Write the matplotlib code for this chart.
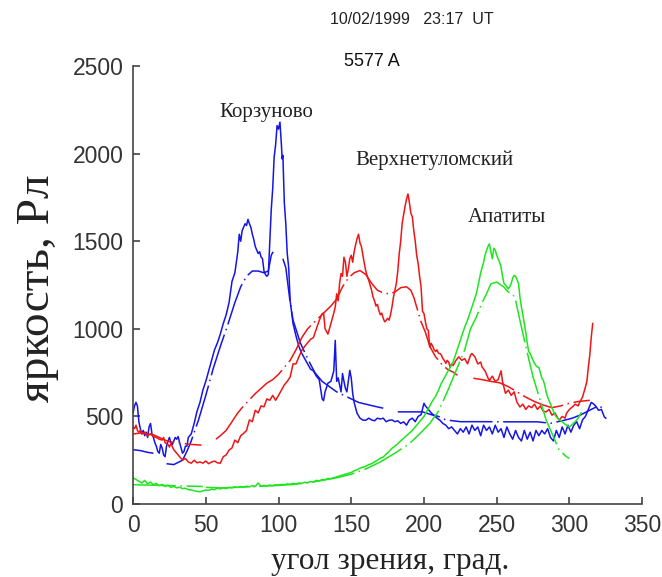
import numpy as np
import matplotlib
matplotlib.use("Agg")
import matplotlib.pyplot as plt

# --- data (angle, deg ; brightness, R) ---
korz_raw = [(0,520),(1,560),(2,580),(3,560),(4,470),(5,430),(6,400),(7,420),(8,390),(9,410),
    (10,380),(11,440),(12,460),(13,400),(14,380),(15,350),(16,330),(17,300),(18,290),(19,340),
    (20,320),(21,280),(22,270),(23,330),(24,360),(25,380),(26,350),(27,340),(28,360),(29,380),
    (30,370),(31,385),(32,350),(33,320),(34,290),(35,300),(36,330),(37,330),(38,380),(39,390),
    (40,400),(42,460),(44,530),(46,580),(48,650),(50,700),(52,760),(54,820),(56,880),(58,920),
    (60,970),(62,1030),(64,1080),(66,1150),(68,1270),(70,1320),(72,1440),(73,1540),(74,1500),
    (75,1560),(76,1580),(77,1600),(78,1590),(79,1625),(80,1600),(81,1580),(82,1540),(83,1510),
    (84,1470),(85,1450),(86,1430),(87,1440),(88,1410),(89,1400),(90,1330),(91,1310),(92,1300),
    (93,1310),(94,1500),(95,1680),(96,1800),(97,1980),(98,2050),(99,2160),(100,2140),(101,2180),
    (102,2050),(102.5,1970),(103,1990),(104,1720),(105,1600),(106,1430),(107,1350),(108,1160),
    (110,1030),(112,960),(114,900),(116,860),(118,830),(120,800),(122,770),(124,760),(126,730),
    (128,710),(130,600),(131,590),(132,640),(134,690),(136,700),(138,760),(139,934),(140,700),
    (141,720),(142,680),(143,640),(144,745),(145,700),(146,660),(147,640),(148,700),(149,763),
    (150,720),(151,632),(152,580),(154,518),(156,490),(158,479),(160,478),(162,490),(164,480),
    (166,475),(168,490),(170,485),(172,490),(174,470),(176,478),(178,480),(180,470),(182,475),
    (184,460),(186,469),(188,450),(190,480),(192,490),(194,470),(196,500),(198,510),(200,575),
    (201,560),(203,540),(205,520),(207,505),(209,490),(211,478),(213,460),(215,450),(217,430),
    (219,440),(221,420),(223,400),(225,430),(227,410),(229,440),(231,400),(233,450),(235,420),
    (237,440),(239,390),(241,450),(243,420),(245,440),(247,400),(249,450),(251,410),(253,430),
    (255,380),(257,440),(259,400),(261,370),(263,420),(265,380),(267,360),(269,420),(271,370),
    (273,410),(275,360),(277,420),(279,390),(281,420),(283,400),(285,430),(287,380),(289,360),
    (291,420),(293,380),(295,440),(297,400),(299,450),(301,410),(303,450),(305,470),(307,430),
    (309,480),(311,500),(313,540),(315,580),(316,575),(318,560),(320,535),(322,540),(324,497),
    (325,490)]
korz_fit = [(0,310),(5,305),(10,295),(14,290),(None,None),(23,230),(28,225),(34,250),(37,300),
    (40,360),(45,480),(50,620),(55,770),(60,900),(65,1020),(70,1150),(74,1240),(78,1300),
    (82,1330),(86,1330),(90,1320),(93,1330),(95,1420),(97,1450),(None,None),(103,1400),
    (105,1350),(108,1150),(110,1050),(115,920),(120,830),(125,750),(130,700),(135,670),
    (140,640),(145,620),(150,600),(155,580),(160,570),(165,560),(172,547),(None,None),
    (182,526),(190,526),(199,526),(205,510),(210,500),(215,480),(225,470),(240,470),(260,469),
    (278,469),(287,461),(295,475),(302,490),(308,510),(315,540),(320,560),(325,540)]

verh_raw = [(0,440),(1,430),(2,450),(3,420),(4,410),(5,420),(6,400),(8,410),(10,390),(12,400),
    (14,385),(16,380),(18,370),(20,365),(21,380),(22,350),(24,340),(25,325),(26,345),(28,310),
    (30,290),(32,270),(34,250),(36,260),(38,240),(40,233),(42,250),(44,235),(46,240),(48,233),
    (50,245),(52,230),(54,240),(56,245),(58,235),(60,233),(62,270),(64,280),(66,308),(68,320),
    (70,365),(72,350),(74,390),(76,403),(78,420),(80,480),(82,470),(84,535),(86,520),(88,560),
    (90,555),(92,600),(94,592),(96,620),(98,592),(100,620),(102,650),(104,680),(106,700),
    (108,725),(110,800),(112,800),(114,840),(116,877),(118,900),(120,920),(122,940),(124,950),
    (126,1000),(128,1048),(130,1086),(131,1090),(132,1000),(134,970),(136,1030),(138,1090),
    (139,1124),(140,1200),(141,1160),(142,1260),(143,1316),(144,1300),(145,1409),(146,1380),
    (147,1300),(148,1340),(149,1400),(150,1420),(151,1380),(152,1440),(153,1480),(154,1514),
    (155,1540),(156,1490),(157,1470),(158,1420),(159,1373),(160,1330),(161,1300),(162,1278),
    (163,1250),(164,1220),(165,1181),(166,1160),(167,1130),(168,1140),(169,1105),(170,1080),
    (171,1090),(172,1060),(173,1040),(174,1048),(175,1060),(176,1050),(177,1080),(178,1124),
    (179,1180),(180,1220),(181,1259),(182,1330),(183,1430),(184,1500),(185,1601),(186,1650),
    (187,1700),(188,1740),(189,1770),(190,1720),(191,1660),(192,1640),(193,1560),(194,1500),
    (195,1420),(196,1373),(197,1300),(198,1240),(199,1100),(200,1088),(201,1040),(202,1000),
    (203,991),(204,896),(205,917),(206,900),(207,880),(208,870),(209,880),(210,860),(211,859),
    (212,850),(213,830),(214,820),(215,803),(216,820),(217,810),(218,782),(219,800),(220,790),
    (222,820),(224,840),(226,820),(228,830),(230,800),(232,850),(233,859),(235,840),(237,800),
    (239,810),(240,782),(242,760),(244,720),(245,706),(247,730),(249,700),(251,710),(253,760),
    (254,700),(256,632),(258,650),(260,620),(262,640),(264,580),(266,554),(268,570),(270,540),
    (272,560),(274,550),(276,570),(278,540),(280,560),(282,530),(284,526),(286,540),(288,507),
    (290,520),(292,490),(293,479),(295,500),(297,490),(298,518),(300,540),(302,554),(304,570),
    (306,560),(307,580),(309,610),(311,668),(312,700),(313,780),(314,850),(315,950),(316,1030)]
verh_fit = [(0,400),(5,405),(10,400),(14,395),(18,380),(22,365),(25,355),(30,350),(35,345),
    (40,340),(44,338),(47,336),(None,None),(57,370),(60,390),(64,420),(68,470),(72,520),
    (76,560),(80,595),(84,630),(88,660),(92,690),(96,710),(100,740),(104,780),(108,820),
    (112,880),(116,950),(120,1000),(126,1050),(131,1090),(136,1130),(140,1170),(144,1240),
    (148,1290),(152,1320),(156,1333),(160,1310),(164,1260),(168,1220),(172,1205),(176,1200),
    (180,1210),(184,1235),(188,1240),(191,1220),(193,1180),(195,1124),(198,1040),(201,980),
    (204,900),(208,840),(212,800),(216,770),(220,753),(223,735),(None,None),(234,718),
    (240,710),(246,700),(252,692),(258,670),(264,640),(270,610),(276,585),(282,565),(288,550),
    (294,560),(300,575),(306,585),(314,592)]

apat_raw = [(0,150),(2,140),(4,130),(6,120),(8,135),(10,115),(12,125),(14,110),(16,118),(18,105),
    (20,112),(22,100),(24,108),(26,95),(28,100),(30,92),(32,96),(34,88),(36,90),(38,82),(40,80),
    (42,76),(44,72),(46,70),(48,75),(50,80),(52,78),(54,85),(56,82),(58,90),(60,86),(62,92),
    (64,88),(66,95),(68,92),(70,98),(72,95),(74,100),(76,96),(78,102),(80,98),(82,105),(84,100),
    (86,120),(88,102),(90,106),(92,104),(94,108),(96,105),(98,110),(100,108),(102,112),(104,110),
    (106,115),(108,112),(110,118),(112,114),(114,120),(116,118),(118,124),(120,122),(122,128),
    (124,126),(126,135),(128,132),(130,140),(132,138),(134,146),(136,144),(138,150),(140,155),
    (142,160),(144,165),(146,170),(148,175),(150,180),(152,190),(154,195),(156,205),(158,210),
    (160,215),(162,225),(164,230),(166,240),(168,250),(170,262),(172,268),(174,285),(176,300),
    (178,318),(180,330),(182,345),(184,360),(186,375),(188,390),(190,405),(192,420),(194,440),
    (196,460),(198,480),(200,500),(202,530),(204,560),(206,590),(208,615),(210,650),(212,690),
    (214,720),(216,750),(218,780),(220,810),(222,860),(224,910),(226,960),(228,1010),(230,1050),
    (232,1100),(234,1150),(236,1200),(237,1240),(238,1280),(239,1320),(240,1350),(241,1380),
    (242,1420),(243,1447),(244,1470),(245,1485),(246,1440),(247,1400),(248,1460),(249,1450),
    (250,1420),(251,1400),(252,1380),(253,1352),(254,1300),(255,1260),(256,1250),(257,1240),
    (258,1229),(259,1240),(260,1260),(261,1290),(262,1305),(263,1300),(264,1280),(265,1260),
    (266,1180),(267,1124),(268,1080),(269,1030),(270,980),(271,920),(272,870),(273,860),
    (274,840),(275,820),(276,803),(277,790),(278,782),(279,780),(280,750),(281,720),(282,706),
    (283,680),(284,640),(285,611),(286,590),(287,570),(288,550),(289,530),(290,510),(291,497),
    (293,480),(295,470),(297,455),(299,445),(300,440),(302,455),(304,470),(306,490),(308,520)]
apat_fit = [(0,110),(10,108),(20,106),(30,104),(40,102),(48,100),(None,None),(50,95),(60,92),
    (70,95),(80,98),(90,102),(100,106),(110,112),(120,120),(130,135),(140,150),(150,170),
    (160,200),(170,240),(180,290),(190,345),(197,400),(204,460),(210,530),(216,640),(222,760),
    (228,880),(232,1000),(236,1067),(240,1150),(243,1200),(246,1257),(250,1267),(255,1238),
    (258,1210),(261,1200),(263,1162),(266,1048),(270,900),(275,725),(280,590),(284,479),
    (289,384),(293,308),(298,270),(300,260)]

stations = ["Корзуново", "Верхнетуломский", "Апатиты"]
label_pos = [(91.4, 2234), (206.9, 1960), (257, 1635)]
colors = ["#1515e6", "#ee1515", "#1ee61e"]


def xy(pts):
    a = np.array([(np.nan, np.nan) if p[0] is None else p for p in pts], dtype=float)
    return a[:, 0], a[:, 1]


fig = plt.figure(figsize=(6.62, 5.77), dpi=100)
ax = fig.add_axes([0.201, 0.1265, 0.769, 0.759])

for raw, fit, c in zip([korz_raw, verh_raw, apat_raw], [korz_fit, verh_fit, apat_fit], colors):
    ax.plot(*xy(raw), color=c, lw=1.1)
    ax.plot(*xy(fit), color=c, lw=1.1, linestyle=(0, (28, 3, 1, 3)))

ax.set_xlim(0, 350)
ax.set_ylim(0, 2500)
ax.set_xticks(range(0, 351, 50))
ax.set_yticks(range(0, 2501, 500))
for s in ["top", "right"]:
    ax.spines[s].set_visible(False)
for s in ["left", "bottom"]:
    ax.spines[s].set_color("#444444")
    ax.spines[s].set_linewidth(1.2)
ax.tick_params(direction="in", length=5, width=1.2, color="#444444", pad=7,
               labelsize=16.5, labelcolor="#333333")
for lab in ax.get_xticklabels() + ax.get_yticklabels():
    lab.set_family("Liberation Sans")

serif = "Liberation Serif"
for name, (lx, ly) in zip(stations, label_pos):
    ax.text(lx, ly, name, family=serif, fontsize=15, ha="center", va="center", color="#222222")

fig.text(412 / 662, 1 - 20 / 577, "10/02/1999   23:17  UT", family="Liberation Sans",
         fontsize=11.5, ha="center", va="center", color="#222222")
fig.text(372 / 662, 1 - 61 / 577, "5577 A", family="Liberation Sans",
         fontsize=13, ha="center", va="center", color="#111111")
fig.text(38 / 662, 1 - 288 / 577, "яркость, Рл", family=serif, fontsize=34,
         rotation=90, ha="center", va="center", color="#222222")
fig.text(390 / 662, 1 - 562 / 577, "угол зрения, град.", family=serif, fontsize=22.5,
         ha="center", va="center", color="#222222")

fig.savefig("out.png", dpi=100)
